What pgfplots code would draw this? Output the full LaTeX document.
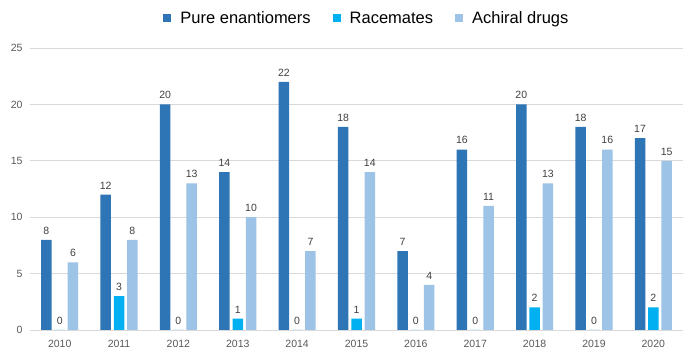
\documentclass[border=0pt]{standalone}
\usepackage{pgfplots}
\pgfplotsset{compat=1.18}
\usepackage{fontspec}
\setmainfont{Liberation Sans}
\definecolor{cA}{HTML}{2E75B6}
\definecolor{cB}{HTML}{00B0F0}
\definecolor{cC}{HTML}{9DC3E6}
\definecolor{tk}{HTML}{595959}
\definecolor{gl}{HTML}{D9D9D9}
\begin{document}
\begin{tikzpicture}[x=1pt,y=1pt]
\useasboundingbox (0,0) rectangle (700,358);
\begin{axis}[
  at={(30pt,28pt)}, anchor=south west,
  scale only axis, width=653pt, height=282pt,
  xmin=-0.5, xmax=10.5, ymin=0, ymax=25,
  axis line style={draw=none},
  /pgf/number format/assume math mode=true,
  ymajorgrids, grid style={gl, line width=0.8pt},
  ytick={0,5,10,15,20,25},
  xtick={0,...,10},
  xticklabels={2010,2011,2012,2013,2014,2015,2016,2017,2018,2019,2020},
  tick style={draw=none},
  ticklabel style={font=\fontsize{10.5}{12}\selectfont, text=tk},
  xticklabel style={yshift=-2pt},
  yticklabel style={xshift=-4pt},
  ybar, bar width=10.5pt,
  nodes near coords,
  nodes near coords style={font=\fontsize{10.5}{12}\selectfont, text=black!75, yshift=2pt},
  legend style={at={(0.516,1.106)}, anchor=center, draw=none, fill=none,
    legend columns=3, font=\fontsize{16.5}{19}\selectfont,
    /tikz/every odd column/.append style={column sep=7pt},
    /tikz/every even column/.append style={column sep=20pt}},
  legend image code/.code={\fill[#1] (0pt,-4pt) rectangle (8pt,4pt);},
  clip=false,
]
\addplot[draw=none, fill=cA, bar shift=-13.3pt] coordinates {(0,8) (1,12) (2,20) (3,14) (4,22) (5,18) (6,7) (7,16) (8,20) (9,18) (10,17)};
\addplot[draw=none, fill=cB, bar shift=0pt] coordinates {(0,0) (1,3) (2,0) (3,1) (4,0) (5,1) (6,0) (7,0) (8,2) (9,0) (10,2)};
\addplot[draw=none, fill=cC, bar shift=13.3pt] coordinates {(0,6) (1,8) (2,13) (3,10) (4,7) (5,14) (6,4) (7,11) (8,13) (9,16) (10,15)};
\legend{Pure enantiomers, Racemates, Achiral drugs}
\end{axis}
\end{tikzpicture}
\end{document}
